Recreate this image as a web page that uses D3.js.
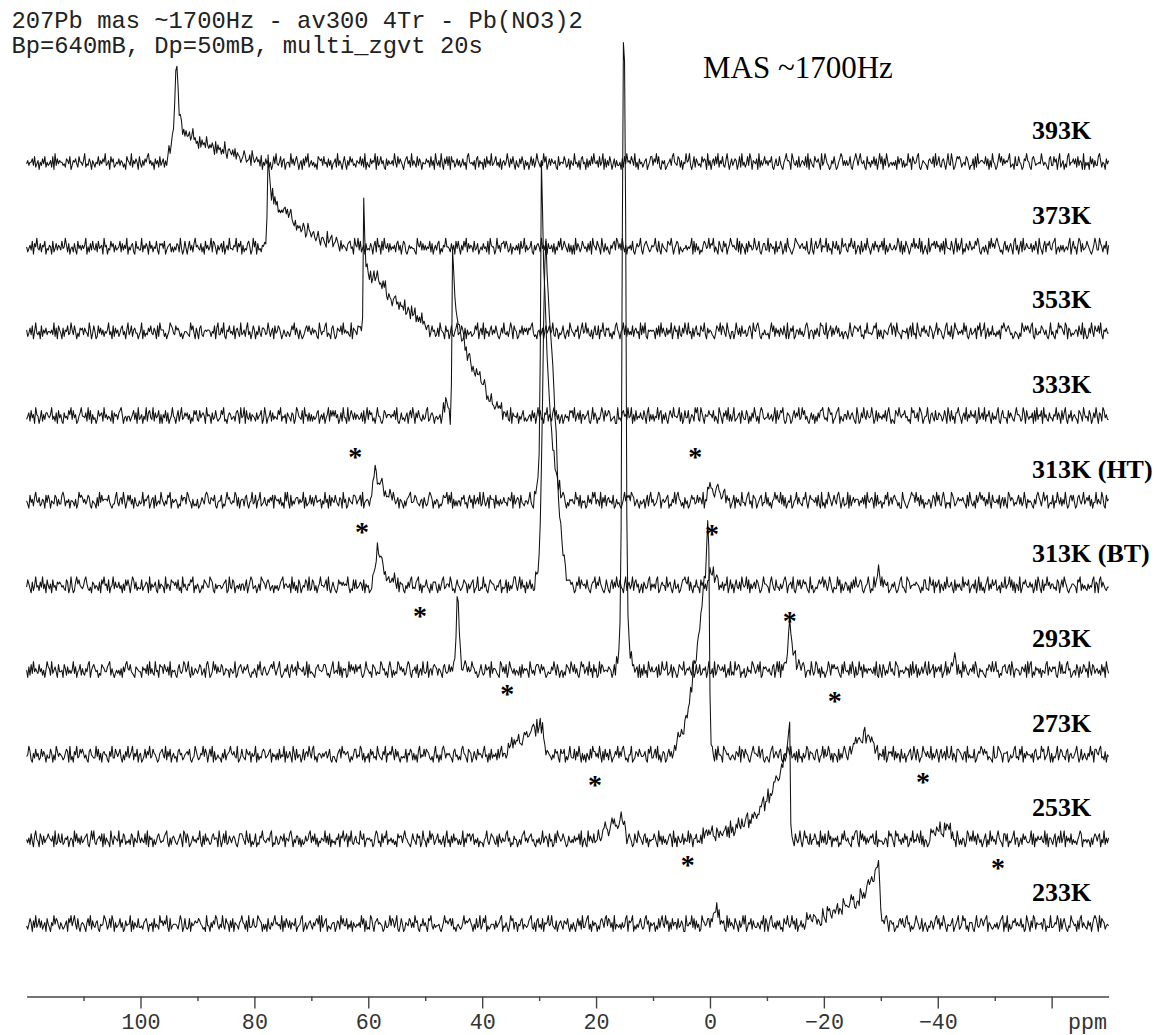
<!DOCTYPE html>
<html>
<head>
<meta charset="utf-8">
<script src="https://cdn.jsdelivr.net/npm/d3@7"></script>
<style>
  body { margin: 0; background: #fff; }
  svg { display: block; }
  .trace { fill: none; stroke: #111; stroke-width: 1.05; stroke-linejoin: round; }
  .axis path, .axis line { stroke: #444; stroke-width: 1.4; }
  .axis text, .unit { font-family: "Liberation Mono", "Courier New", monospace; font-size: 21.7px; fill: #333; }
  .header { font-family: "Liberation Mono", "Courier New", monospace; font-size: 23.8px; fill: #222; }
  .mas { font-family: "Liberation Serif", "Times New Roman", serif; font-size: 31px; fill: #000; }
  .temp, .star { font-family: "Liberation Serif", "Times New Roman", serif; font-weight: bold; font-size: 26px; fill: #000; }
  .star { font-size: 28px; }
</style>
</head>
<body>
<svg id="chart" width="1157" height="1035"></svg>
<script>
// stacked spectra, top to bottom
const temps = ['393K', '373K', '353K', '333K', '313K (HT)', '313K (BT)', '293K', '273K', '253K', '233K'];

// sampling grid of every trace (ppm)
const ppmStart = 120;
const ppmStep = 0.2;
const ppmEnd = -70;

// intensity of each noise digit 0..9
const noiseLevels = [-9.5, -6.5, -4.2, -2.4, -0.8, 0.8, 2.4, 4.2, 6.5, 9.5];

// baseline noise, one digit per grid point
const noiseRows = [
  `4635573824 6153748253 4628193746 5534276481 3657428553 6924375164 2548364759 3461857235 4736524186 5392647518 4263758946 3517462835
   7241593684 4625387152 6347259463 5182746395 3647518274 6253941675 4738265413 5862347196 3574628153 7462513849 4358267145 5294736851
   4617385924 6352418767 3845273614 5729364158 4163857342 6548372915 3274659183 5846217364 4639528475 3157846293 6428375154 4756283619
   5362941748 3818562473 6247351895 4536178264 5172846393 4683527156 3596274841 6327485163 5148372596 4263958147 3754621835 5486237164
   3945261784 5172638495 4628359172 6385147263 3517284956 4863925174 5246713588 3759482164 6124573895 4387261549 5693148275 3428576193
   6157384926 4832695147 3576148293 5248397165 4719263584 6365821473 3842157966 5197436282 4653829175 3286574193 5974312648 4125798363
   6348215797 3795462184 5264837159 4817396245 3536184772 6243957186 4589213654 3167548293 5832674159 4396125878 6245387413 3718294566
   5483716295 4126958374 6579234183 3854127696 5217863445 4963542178 3385716924 6142893557 4728365191 5351847263 3896254174 6214738585`,
  `5246381759 4372658143 6518247365 3845962714 5273184636 4691527384 3728456195 6143857263 4582736491 5367218453 3926475184 6254831767
   4813567252 5376294138 4158362795 6437251846 3592874163 5728146394 4365927581 6243785139 5817342646 3458619273 6132547858 4795326143
   5248613976 3674258415 6421935782 4586317254 3267845196 5938246173 4375168295 6183954727 3546278361 5872136454 4219658373 6354827146
   3781426595 5427361848 4163859274 6528347135 3745281965 5139462778 4862371543 6371845926 3458216367 5294638174 4627153859 3586427261
   6193752486 4527381965 3864195273 5216478398 4739526154 6382147569 3157864236 5694283175 4328769514 6871532446 3546918273 5132687459
   4769253186 3285714697 5643928175 4172856349 6358214773 3927645182 5486137295 4213598764 6745382139 3168457926 5592734185 4836129567
   3275964813 6518247395 4147385626 5839162474 3463597281 6286413759 4754928136 3192576848 5627381954 4385169273 6914275386 3548697214
   5263184957 4897523168 3625741893 6158293475 4472638519 5316827684 3789145263 6245379158 4516982734 5864213697 3397526481 6723148955`,
  `6247381594 3518264735 5463927186 4172658349 6385142767 3754296148 5128473625 4693518274 6247835169 3582674413 5916243758 4375182966
   6241359874 3867524135 5432968417 4178325656 6525481793 3749216584 5381674293 4627935148 6153842776 3496257184 5874136325 4258693741
   6312478585 3746521963 5589243178 4127658394 6453291765 3865147238 5271483696 4638592154 3157846275 6492375183 4815263947 5367148562
   3729654185 6148325793 4586271634 5234869157 3917452683 6485213749 4352697186 5126483757 3768942315 6247158468 4593276143 5831462975
   4265813794 5947326158 3381659427 6724153896 4156938273 5382674519 3849216565 6517382947 4273649158 5618327496 3945172683 4286593174
   6532148759 3874296315 5149637284 4623785196 5897214363 3416958274 6275384191 4758126637 3524897156 5163742988 4391568273 6847235145
   3159426877 5782316494 4435879162 6216543789 3872954316 5547168293 4196327584 6328751469 3765214893 5281497635 4639582147 3457186926
   6914725383 4253618797 5786341254 3142975868 6489217335 4875362149 3521649787 5398176243 4662853917 3127495286 5849316574 4283657191`,
  `3572846196 5148263775 4693527184 6217453869 3846125795 5472938163 4138567294 6354281756 3789614525 5246837193 4615392784 3927458161
   6482713595 4158269347 5736142868 3284675195 6517348423 4869231576 3452786194 5918437265 4273568139 6145827354 3869254617 5427613985
   4381956272 6253478146 3714692858 5846137294 4192586373 6534728159 3867241595 5213874666 4658392137 3425716849 6174853263 4892367514
   5346158297 3781625443 6425937168 4153286795 5697142383 3248576916 6483291755 4715368242 3562847159 5834176926 4279583614 6136452878
   4925738166 3568214937 5143697285 6872345119 3427856394 5916283547 4385179263 6254937816 3731586495 5469271384 4813652979 3297416558
   6648253197 4175839262 5923467185 3386152749 6251798434 4734625918 3587931276 5126847593 4968352147 3615274889 5342986713 4789153266
   3853674219 6127495385 4596138274 5364827951 3218759646 6845231978 4472986135 5931674283 3765248519 6283517796 4157392648 5648129357
   3926584173 5379216844 4184753269 6652397185 3547182936 5819463274 4265937518 3793164825 6431875296 4528613749 5176298463 3864752197`,
  `5318462795 4723651848 6154387263 3897254615 5426139787 4635872154 3172948566 6584213379 4267395148 5836174225 3492657813 6718245396
   4253879164 5641328577 3985416232 6124753898 4376582145 5813269674 3549827156 6278314593 4815692347 3264758186 5637241959 4182536773
   6459172348 3726845561 5394618275 4853276194 6127543887 3568291456 5243869713 4796152338 6385247165 3152678944 5874325617 4237986153
   6513248779 3849162525 5276834168 4618357392 3952471866 6183526347 4427659183 5761843255 3694218576 6235784143 4518367292 5873142656
   4396728154 5128463979 3652917482 6745381263 4213695878 5987246315 3461582794 6234798156 4578132649 3896524173 5125867348 4763914285
   6342158976 3589274613 5817463294 4268935187 6135782449 3724156968 5493827135 4812569374 3276941586 6547283192 4163975258 5389614723
   3918257466 6254738195 4675192834 5143869257 3786524119 6421357988 4957283614 3365148729 5832796143 4198623575 6574318296 3251847968
   5726394185 4463815727 3198576243 6837249516 4542163897 5269578134 3815496372 6394127858 4127853693 5758261449 3643972185 6285134776`,
  `4863172594 5274936185 3618452767 6453287139 4127968543 5896324176 3542718695 6281459374 4735162858 5169837243 3824576192 6457218365
   4193652877 5738241946 3265879153 6412538764 4987216355 5346781294 3871453626 6258147983 4513629876 3786245153 5247893664 4619372518
   6135487292 3872514695 5468293147 4213867575 6594132838 3457628164 5123876495 4786251352 3649528176 6215374893 4378926154 5843162777
   3162589346 6497231585 4235876163 5781349224 3946215876 6325478143 4817253699 5269384517 3583621974 6142857363 4675193248 5398246757
   4127593865 6384215779 3759642138 5216837495 4843169257 3592784613 6175348926 4638912575 5294673148 3461258897 6927315484 4185736252
   5349268714 3726591483 6158437296 4593816357 3874125966 5417963284 4263589715 6739214858 3586742193 5124368679 4862597314 3395816247
   6251738495 4687213569 5132946787 3948657123 6473125894 4219873556 5765314288 3329658174 6816427395 4573182646 3294765813 5638149272
   4157926385 6823517449 3569482716 5291376854 4746138297 3182659573 6634287158 4975213466 5418792635 3263548917 6189475324 4527361889`,
  `5172839464 3846251597 6293574184 4518627353 5937145826 3264891578 6451328764 4789263135 3526174896 5843217654 4175638293 6329451877
   3864729154 5216843598 4693172365 3587246189 6124958374 4872365516 5349126785 3756842143 6418593267 4235786952 5793124648 3168457296
   6547239183 4321678554 5886231479 3453927165 6129485738 4768312596 5341876243 3985624179 6152439857 4623798315 5738146294 3491562787
   6265317843 4847253169 3512698474 5976341258 4238567193 6653219847 3814975362 5427183656 4196352788 6385741243 3759628514 5142876397
   4836215978 3572946184 6129387455 4765138293 5318694726 3946257181 6283519647 4457182396 5692348175 3138765924 6574291383 4823657149
   3361924875 5748136292 4295687143 6127453986 3584912767 5463278159 4918365234 6352791486 3786145529 5249836173 4135972868 6674218395
   4528396172 3957184636 5643729218 4186253794 6329871545 3475618293 5816247369 4293568174 6748135927 3562497183 5194863256 4839721645
   3216587494 6945132778 4378296156 5523764819 3891427563 6154389275 4767215938 3438956124 5286173487 4619528735 6352847196 3975163582`,
  `4597216384 6238475153 3861529746 5423687192 4175934868 6352178543 3948261675 5217493386 4683152749 3579264815 6124837593 4865312678
   5392748146 3417856235 6758213497 4236594861 5849172353 3163825679 6574391248 4328657164 5916243787 3457816452 6283549173 4741962835
   5138267496 3892415653 6467358214 4215783967 5673142588 3549826143 6185734296 4327591657 5962847314 3438165872 6251793548 4876324169
   3515289736 5643178452 4289653187 6137428565 3794516283 5462837946 4128569374 6583214757 3345786192 5917342665 4253867318 6681425943
   3827495162 5164283977 4639517284 6285134759 3748962315 5912376486 4457218693 3683925147 6126847358 4795362188 3538179426 5264893571
   6473182955 4198756324 5327649187 3865214796 6549378213 4216893575 3782156498 5934627183 4163598276 6327841459 3845972616 5418263797
   4279136584 6753289145 3156847926 5482913767 4927365183 3614578249 6285134976 4743926358 5168357294 3592641887 6426719353 4381257698
   5867243219 3349875166 6712534893 4285916375 5536178424 3978245961 6143692587 4427815633 5795138246 3264957188 6589342715 4116783452`,
  `5362841795 4186273568 6547192384 3823657146 5194836273 4678215959 3256748182 6431952765 4915387243 5287164396 3643829175 6152478534
   4789316267 5324685198 3861247453 6593172846 4237856619 5148392375 3675214888 6429538142 4813276954 3564891327 5237648165 4896153772
   6152374589 3748261436 5493728153 4265817694 6817493257 3329658146 5645127983 4183769254 6352418677 3796532148 5428671395 4163958724
   6835247169 3517384652 5249163878 4782536143 3156942587 6327185364 4894613275 5135278946 3678452153 6249367518 4512839764 5863127435
   3746582914 6219475383 4583126796 5137968442 3695247158 6412853976 4278361545 5863194727 3524786193 6175348264 4938615572 3261947858
   5794318626 4356827193 6127495384 3689152747 5243768915 4915237686 3368594124 6742185359 4159673282 5586241937 3823957164 6471328595
   4632175899 3195847263 5768329154 4423651978 6319784526 3857126493 5486392715 4124867538 6593218476 3738451962 5265139847 4947286351
   3681529474 5279643188 4814357926 6136285743 3592816475 5743928166 4268157393 6917463825 3425798154 5354162687 4781539263 6263874519`,
  `4258617393 5837246185 3164958742 6423571869 4795283156 5316849274 3672154598 6248397163 4583612745 5917264383 3426785154 6183542967
   4759318245 5542697138 3238164576 6875423194 4163759842 5394286517 3816542679 6527193348 4349876152 5183264795 6452917386 3726548134
   5891362467 4264785919 3578143256 6137629584 4825371643 5463958172 3298416785 6541273359 4873692148 5126548736 3967215484 6318794253
   4452136967 5784823145 3236957678 6415283492 4869142355 5273568914 3631497826 6154782543 4789326178 3528165694 5943271467 4276583152
   6315847293 3689251746 5142786389 4873619254 3526348917 6791425368 4238957164 5614283795 3957162846 6283475119 4465938273 5129764588
   3847526193 6572193846 4286417359 5913658274 3364275918 6158943627 4723186595 3595728144 6241396785 4876253119 5319784266 3682541975
   5436978214 4197362589 6783154236 3254896177 5612437858 4389561423 6975238146 3143762589 5826497315 4468135792 3597824166 6215943587
   4789165323 5362478916 3915237684 6448351297 4173982655 5628714339 3346597182 6852143976 4517289364 3274615898 5193876245 4636258713`
];

// signal: [first ppm, intensities on the 0.2 ppm grid]
const signals = [
  [[95.6, [3, 4, 6, 8, 12, 16, 22, 35, 60, 90, 101, 75, 50, 42, 38, 35, 33, 31,
           30, 29, 28, 27, 27, 26, 25, 24, 23, 22, 21, 21, 20, 20, 19, 19, 18, 18, 17, 17, 17, 16, 16, 16, 15, 15, 15,
           14, 14, 14, 13, 13, 13, 12, 12, 11, 11, 11, 10, 10, 9, 9, 9, 8, 8, 8, 7, 7, 7, 6, 6, 6, 5, 5, 5,
           4, 4, 4, 3, 3, 3, 2, 2, 2, 1, 1, 1]]],
  [[78.4, [2, 3, 6, 30, 92, 70, 60, 54, 50, 48, 47, 45, 44, 42, 40, 39, 37, 36, 35, 34, 33, 32, 31, 30, 29, 28, 27,
           26, 25, 24, 23, 22, 21, 20, 19, 18, 18, 17, 16, 15, 14, 13, 13, 12, 12, 11, 11, 10, 10,
           9, 9, 9, 8, 8, 8, 7, 7, 7, 6, 6, 6, 5, 5, 5, 4, 4, 4, 3, 3, 3, 2, 2, 2, 1, 1, 1]]],
  [[61.6, [3, 5, 8, 15, 130, 95, 68, 62, 58, 57, 57, 56, 55, 55, 54, 53, 52, 50, 49, 47, 46, 45, 44, 42, 41, 39,
           38, 36, 35, 33, 32, 31, 30, 29, 28, 27, 26, 25, 24, 23, 23, 22, 22, 21, 21, 20, 20, 19, 19, 18, 17, 16,
           15, 13, 12, 10, 9, 7, 6, 5, 4, 3, 2, 1]]],
  [[46.8, [8, 9, 10, 11, 12, 4, -14, 40, 165, 150, 120, 108, 100, 95, 90, 85, 80, 76, 72, 69, 66, 63, 60, 57, 55,
           52, 50, 47, 45, 42, 40, 38, 36, 34, 32, 30, 28, 26, 24, 22, 20, 18, 17, 15, 14, 12, 11, 9, 8, 7, 6, 5,
           4, 3, 2, 1]]],
  [[59.6, [4, 8, 14, 22, 27, 26, 24, 21, 18, 16, 14, 13, 12, 10, 9, 8, 7, 6, 5, 4, 3, 2, 2, 1]],
   [30.8, [4, 7, 12, 22, 45, 150, 342, 290, 230, 205, 180, 152, 125, 105, 85, 70, 58, 45, 35, 27, 20, 16, 12, 8, 5, 3, 2, 1]],
   [0.8, [3, 5, 8, 12, 17, 16, 14, 12, 11, 10, 9, 8, 7, 6, 5, 4, 4, 3, 3, 2, 2, 1]]],
  [[59.2, [5, 10, 16, 26, 34, 32, 30, 26, 22, 19, 16, 14, 12, 10, 9, 8, 7, 6, 5, 4, 3, 2, 2, 1]],
   [30.8, [3, 5, 8, 15, 30, 70, 120, 190, 260, 320, 343, 315, 290, 272, 255, 236, 217, 196, 175, 145, 118, 92, 70,
           57, 45, 33, 22, 15, 10, 7, 4, 2, 1]],
   [0.4, [5, 10, 18, 15, 12, 10, 8, 6, 5, 4, 3, 2, 1]],
   [-29.2, [3, 6, 15, 7, 3]]],
  [[45.2, [4, 8, 15, 40, 72, 60, 40, 20, 8, 5, 3, 1]],
   [16.4, [5, 10, 20, 50, 150, 420, 626, 600, 450, 150, 60, 30, 15, 10, 6, 4, 3, 1]],
   [-12.8, [3, 5, 8, 12, 20, 38, 50, 40, 28, 20, 14, 11, 8, 6, 5, 4, 3, 2, 2, 1]],
   [-42.4, [6, 9, 12, 9, 6, 3]]],
  [[36.0, [3, 4, 5, 6, 7, 8, 9, 10, 12, 12, 13, 14, 15, 15, 16, 17, 18, 19, 20, 20, 21, 22, 23, 24, 25, 25, 26, 26,
           27, 27, 28, 28, 29, 29, 20, 12, 5, 3, 1]],
   [6.4, [2, 4, 6, 10, 14, 18, 22, 24, 26, 28, 29, 34, 40, 47, 55, 62, 70, 78, 86, 93, 100, 110, 120, 130, 140, 150,
          160, 170, 180, 205, 231, 215, 60, 12, 5, 3, 1]],
   [-24.8, [8, 9, 10, 11, 12, 13, 14, 14, 15, 16, 17, 18, 19, 19, 20, 20, 21, 20, 18, 12, 6, 3, 2, 1]]],
  [[19.6, [4, 5, 6, 7, 8, 8, 9, 10, 10, 11, 12, 12, 13, 14, 15, 15, 16, 16, 17, 18, 19, 19, 20, 20, 6, 3, 1]],
   [2.8, [1, 1, 2, 2, 2, 2, 3, 3, 3, 3, 4, 4, 4, 4, 5, 5, 5, 5, 6, 6, 6, 6, 7, 7, 7, 7, 8, 8, 8, 8,
          9, 9, 10, 10, 11, 11, 12, 12, 13, 13, 14, 14, 15, 15, 16, 17, 18, 18, 19, 20, 21, 22, 23, 24, 25, 26, 27, 28,
          30, 31, 33, 34, 36, 38, 40, 42, 44, 46, 49, 51, 54, 56, 58, 60, 62, 64, 67, 70, 72, 76, 80, 90, 100, 108, 116,
          12, 5, 3, 1]],
   [-38.8, [5, 5, 6, 6, 7, 7, 8, 8, 9, 9, 10, 10, 11, 11, 12, 12, 13, 13, 4, 2, 1]]],
  [[-0.4, [4, 7, 12, 17, 20, 14, 6, 3, 2, 1]],
   [-16.0, [2, 2, 2, 2, 3, 3, 3, 3, 4, 4, 4, 4, 5, 5, 5, 5, 6, 6, 7, 7, 8, 8, 9, 9, 10, 10, 11, 11, 12, 13,
            14, 14, 15, 15, 16, 16, 17, 17, 18, 18, 19, 19, 20, 20, 21, 21, 22, 22, 23, 24, 25, 26, 27, 28, 29, 30, 31,
            32, 34, 36, 38, 40, 42, 46, 50, 54, 58, 62, 67, 40, 18, 8, 4, 2, 1]]]
];

// spinning sideband markers: [trace, ppm, intensity level]
const asterisks = [
  [4, 62.3, 49], [4, 2.6, 49],
  [5, 61.1, 58], [5, -0.35, 56],
  [6, 50.9, 59], [6, -14.0, 54], [6, 35.6, -19], [6, -21.9, -26],
  [7, 20.2, -25], [7, -37.4, -22],
  [8, 3.9, -21], [8, -50.6, -24]
];

const majorTicks = [100, 80, 60, 40, 20, 0, -20, -40, -60];
const minorTicks = [110, 90, 70, 50, 30, 10, -10, -30, -50];
const tickLabels = ['100', '80', '60', '40', '20', '0', '\u221220', '\u221240', ''];
const headerLines = ['207Pb mas ~1700Hz - av300 4Tr - Pb(NO3)2', 'Bp=640mB, Dp=50mB, multi_zgvt 20s'];
const masLabel = 'MAS ~1700Hz';
const unitLabel = 'ppm';

const svg = d3.select('#chart');

// x: ppm, reversed as usual for NMR
const x = d3.scaleLinear()
            .domain([ppmStart, ppmEnd])
            .range([26.6, 1108.6]);

// baseline of each stacked trace
const base = d3.scaleLinear()
               .domain([0, temps.length - 1])
               .range([163, 925]);

// intensity -> vertical pixels (upwards)
const amp = d3.scaleLinear()
              .domain([0, 100])
              .range([0, -100]);

function buildTrace(k) {
  const digits = noiseRows[k].replace(/\s/g, '');
  const vals = Array.from(digits, c => noiseLevels[+c]);
  signals[k].forEach(([from, values]) => {
    const i0 = Math.round((ppmStart - from) / ppmStep);
    values.forEach((v, j) => {
      if (i0 + j < vals.length) vals[i0 + j] += v;
    });
  });
  return vals.map((v, i) => [ppmStart - i * ppmStep, v])
             .filter(d => d[0] >= ppmEnd - 1e-6);
}

const line = d3.line()
               .x(d => x(d[0]))
               .y(d => d.base + amp(d[1]));

// traces
temps.forEach((t, k) => {
  const pts = buildTrace(k).map(d => Object.assign(d, {base: base(k)}));
  svg.append('path')
     .attr('class', 'trace')
     .attr('d', line(pts));
});

// temperature labels
svg.append('g')
   .selectAll('text')
   .data(temps)
   .join('text')
   .attr('class', 'temp')
   .attr('x', 1032)
   .attr('y', (d, k) => base(k) + amp(24))
   .text(d => d);

// sideband asterisks
svg.append('g')
   .selectAll('text')
   .data(asterisks)
   .join('text')
   .attr('class', 'star')
   .attr('text-anchor', 'middle')
   .attr('x', d => x(d[1]))
   .attr('y', d => base(d[0]) + amp(d[2]))
   .attr('dy', '0.47em')
   .text('*');

// header (acquisition info)
svg.append('g')
   .selectAll('text')
   .data(headerLines)
   .join('text')
   .attr('class', 'header')
   .attr('x', 11.5)
   .attr('y', (d, i) => 28 + i * 24.5)
   .text(d => d);

svg.append('text')
   .attr('class', 'mas')
   .attr('x', 703)
   .attr('y', 78)
   .text(masLabel);

// ppm axis: major ticks with labels, minor ticks between
const axisY = 996.5;
const gAxis = svg.append('g')
                 .attr('class', 'axis')
                 .attr('transform', `translate(0, ${axisY})`)
                 .call(
                   d3.axisBottom(x)
                     .tickValues(majorTicks)
                     .tickSize(12)
                     .tickSizeOuter(0)
                     .tickFormat((d, i) => tickLabels[i])
                 );
gAxis.selectAll('text')
     .attr('y', 32.5)
     .attr('dy', 0);

svg.append('g')
   .attr('class', 'axis')
   .attr('transform', `translate(0, ${axisY})`)
   .call(
     d3.axisBottom(x)
       .tickValues(minorTicks)
       .tickSize(4.5)
       .tickSizeOuter(0)
       .tickFormat('')
   )
   .select('.domain').remove();

svg.append('text')
   .attr('class', 'unit')
   .attr('x', 1107)
   .attr('y', axisY + 32.5)
   .attr('text-anchor', 'end')
   .text(unitLabel);
</script>
</body>
</html>
